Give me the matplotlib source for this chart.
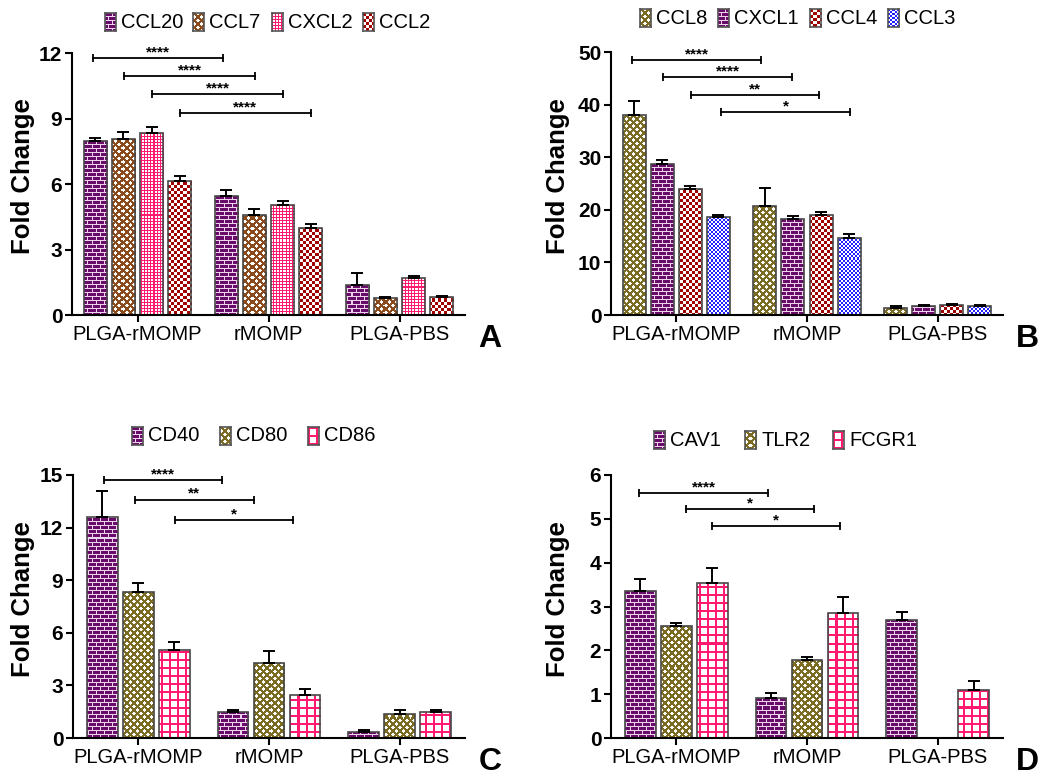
import matplotlib
matplotlib.use('Agg')
import matplotlib.pyplot as plt
import numpy as np
from matplotlib.colors import to_rgb

plt.rcParams['font.family'] = ['Liberation Sans', 'DejaVu Sans']

W, H = 1050, 783

groups = ['PLGA-rMOMP', 'rMOMP', 'PLGA-PBS']

# panel A
a_genes = ['CCL20', 'CCL7', 'CXCL2', 'CCL2']
a_mean = [[7.96, 5.46, 1.37], [8.06, 4.57, 0.76], [8.34, 5.05, 1.71], [6.16, 3.99, 0.84]]
a_err = [[0.15, 0.27, 0.57], [0.31, 0.28, 0.06], [0.29, 0.19, 0.07], [0.21, 0.19, 0.04]]
a_brackets = [(-0.34, 0.65, 11.77, '****'), (-0.103, 0.897, 10.95, '****'),
              (0.113, 1.108, 10.12, '****'), (0.324, 1.322, 9.26, '****')]

# panel B
b_genes = ['CCL8', 'CXCL1', 'CCL4', 'CCL3']
b_mean = [[38.0, 20.8, 1.27], [28.7, 18.3, 1.7], [23.9, 19.0, 1.9], [18.65, 14.7, 1.65]]
b_err = [[2.7, 3.4, 0.5], [0.7, 0.5, 0.2], [0.7, 0.5, 0.1], [0.45, 0.7, 0.19]]
b_brackets = [(-0.339, 0.648, 48.5, '****'), (-0.102, 0.885, 45.2, '****'),
              (0.112, 1.09, 41.8, '**'), (0.342, 1.33, 38.5, '*')]

# panel C
c_genes = ['CD40', 'CD80', 'CD86']
c_mean = [[12.63, 1.47, 0.36], [8.32, 4.25, 1.39], [5.01, 2.48, 1.5]]
c_err = [[1.48, 0.11, 0.08], [0.54, 0.7, 0.19], [0.44, 0.32, 0.08]]
c_brackets = [(-0.263, 0.64, 14.72, '****'), (-0.026, 0.885, 13.6, '**'),
              (0.28, 1.18, 12.44, '*')]

# panel D
d_genes = ['CAV1', 'TLR2', 'FCGR1']
d_mean = [[3.35, 0.92, 2.69], [2.56, 1.79, np.nan], [3.54, 2.86, 1.10]]
d_err = [[0.27, 0.10, 0.18], [0.07, 0.05, np.nan], [0.34, 0.35, 0.19]]
d_brackets = [(-0.283, 0.699, 5.59, '****'), (0.074, 1.053, 5.23, '*'),
              (0.275, 1.252, 4.84, '*')]

PURPLE = '#6a0a6a'
BROWN = '#8a4a1c'
OLIVE = '#7a6a22'
PINK = '#ff1a70'
DARKRED = '#a00000'
BLUE = '#2222ff'


def make_texture(kind, color, w, h):
    yy, xx = np.mgrid[0:h, 0:w]
    fg = np.array(to_rgb(color))
    bg = np.array([1.0, 1.0, 1.0])
    if kind == 'brick':
        row = yy // 4
        mask = ~((yy % 4 == 3) | ((xx + 4 * (row % 2)) % 8 == 7))
        bg = np.array(to_rgb('#ecd6ec'))
    elif kind == 'diamond':
        mask = ((xx + yy) % 7 < 3) | ((xx - yy) % 7 < 3)
    elif kind == 'grid_fine':
        mask = (xx % 3 == 0) | (yy % 3 == 0)
    elif kind == 'grid_coarse':
        mask = (xx % 8 < 2) | (yy % 8 < 2)
    elif kind == 'checker':
        mask = ((xx // 3) + (yy // 3)) % 2 == 0
    else:  # fine checker
        mask = ((xx // 2) + (yy // 2)) % 2 == 0
    return np.where(mask[..., None], fg, bg)


def panel(rect, genes, means, errs, styles, brackets, yticks, width, step,
          legend_x, legend_y, ylab_xy, letter, letter_xy):
    l, t, r, b = rect
    ax = fig.add_axes([l / W, 1 - b / H, (r - l) / W, (b - t) / H])
    aw, ah = int(round(ax.bbox.width)), int(round(ax.bbox.height))
    x = np.arange(len(groups))
    n = len(genes)
    for i in range(n):
        kind, color = styles[i]
        tex = make_texture(kind, color, aw, ah)
        pos = x + (i - (n - 1) / 2) * step
        vals = np.array(means[i], dtype=float)
        err = np.array(errs[i], dtype=float)
        bars = ax.bar(pos, np.nan_to_num(vals), width, facecolor='none',
                      edgecolor='#484848', linewidth=1.2, zorder=2)
        for bar, v in zip(bars, vals):
            if np.isnan(v):
                bar.set_visible(False)
                continue
            im = ax.imshow(tex, extent=(0, 1, 0, 1), transform=ax.transAxes,
                           interpolation='nearest', aspect='auto', zorder=1)
            im.set_clip_path(bar)
        ax.errorbar(pos, vals, yerr=[np.zeros(len(err)), err], fmt='none',
                    ecolor='black', elinewidth=1.4, capsize=4.5, capthick=1.4, zorder=3)

    for x1, x2, y, lab in brackets:
        ax.plot([x1, x2], [y, y], color='black', lw=1.3, zorder=4)
        ax.plot([x1, x2], [y, y], ls='none', marker='|', ms=6, mew=1.3, color='black', zorder=4)
        ax.annotate(lab, xy=((x1 + x2) / 2, y), xytext=(0, -1), textcoords='offset points',
                    ha='center', va='bottom', fontsize=11, fontweight='bold')

    ax.set_xlim(-0.5, 2.5)
    ax.set_ylim(0, yticks[-1])
    ax.set_yticks(yticks)
    ax.set_xticks(x)
    ax.set_xticklabels(groups, fontsize=14.5)
    for lbl in ax.get_yticklabels():
        lbl.set_fontweight('bold')
        lbl.set_fontsize(15)
    ax.spines['top'].set_visible(False)
    ax.spines['right'].set_visible(False)
    ax.spines['left'].set_linewidth(1.5)
    ax.spines['bottom'].set_linewidth(1.5)
    ax.tick_params(axis='both', direction='out', length=5, width=1.5, pad=2)
    ax.set_facecolor('none')

    fig.text(ylab_xy[0] / W, 1 - ylab_xy[1] / H, 'Fold Change', rotation=90,
             ha='center', va='center', fontsize=18.5, fontweight='bold')
    fig.text(letter_xy[0] / W, 1 - letter_xy[1] / H, letter, ha='center', va='center',
             fontsize=23, fontweight='bold')

    # legend: small pattern swatches with names
    hw, hh = 11, 18
    for i, gx in enumerate(legend_x):
        kind, color = styles[i]
        lax = fig.add_axes([gx / W, 1 - (legend_y + hh / 2) / H, hw / W, hh / H])
        lax.imshow(make_texture(kind, color, hw, hh), interpolation='nearest', aspect='auto')
        lax.set_xticks([])
        lax.set_yticks([])
        for s in lax.spines.values():
            s.set_color('#555555')
            s.set_linewidth(1.2)
        fig.text((gx + hw + 5) / W, 1 - legend_y / H, genes[i], ha='left', va='center',
                 fontsize=14.5)
    return ax


fig = plt.figure(figsize=(W / 100, H / 100), dpi=100)

panel((72, 53, 465, 315), a_genes, a_mean, a_err,
      [('brick', PURPLE), ('diamond', BROWN), ('grid_fine', PINK), ('checker', DARKRED)],
      a_brackets, [0, 3, 6, 9, 12], 0.176, 0.215,
      [105, 193, 272, 363], 22, (23, 176), 'A', (490, 339))

panel((611, 52, 1003, 315), b_genes, b_mean, b_err,
      [('diamond', OLIVE), ('brick', PURPLE), ('checker', DARKRED), ('checker_fine', BLUE)],
      b_brackets, [0, 10, 20, 30, 40, 50], 0.176, 0.215,
      [640, 718, 810, 888], 18, (558, 176), 'B', (1027, 339))

panel((73, 475, 465, 738), c_genes, c_mean, c_err,
      [('brick', PURPLE), ('diamond', OLIVE), ('grid_coarse', PINK)],
      c_brackets, [0, 3, 6, 9, 12, 15], 0.235, 0.275,
      [132, 220, 308], 436, (23, 599), 'C', (490, 762))

panel((611, 475, 1003, 738), d_genes, d_mean, d_err,
      [('brick', PURPLE), ('diamond', OLIVE), ('grid_coarse', PINK)],
      d_brackets, [0, 1, 2, 3, 4, 5, 6], 0.235, 0.275,
      [654, 745, 833], 440, (558, 599), 'D', (1027, 762))

fig.savefig('out.png', dpi=100, facecolor='white')
